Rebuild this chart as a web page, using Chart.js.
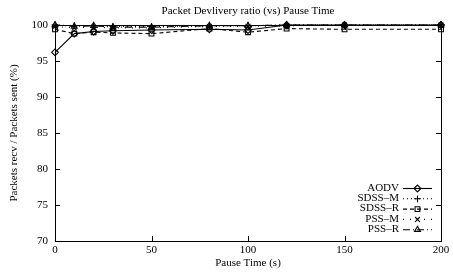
<!DOCTYPE html>
<html>
<head>
<meta charset="utf-8">
<script src="https://cdn.jsdelivr.net/npm/chart.js@4/dist/chart.umd.min.js"></script>
<style>
  html, body { margin: 0; padding: 0; background: #fff; }
  canvas { display: block; }
</style>
</head>
<body>
<canvas id="c" width="453" height="273"></canvas>
<script>
// data
const pauseTimes = [0, 10, 20, 30, 50, 80, 100, 120, 150, 200];
const aodv  = [96.2, 98.8, 99.1, 99.2, 99.3, 99.4, 99.3, 100, 100, 100];
const sdssM = [100, 99.9, 99.9, 99.8, 99.8, 99.9, 99.9, 100, 100, 100];
const sdssR = [99.4, 98.8, 99.0, 98.9, 98.8, 99.5, 99.0, 99.5, 99.4, 99.4];
const pssM  = [99.8, 99.6, 99.7, 99.6, 99.6, 99.8, 99.8, 99.9, 100, 100];
const pssR  = [100, 99.8, 99.9, 99.7, 99.7, 99.9, 99.9, 100, 100, 100];
const xTicks = [0, 50, 100, 150, 200];
const yTicks = [70, 75, 80, 85, 90, 95, 100];

const FONT = '"Liberation Serif", "Times New Roman", serif';

const pts = arr => pauseTimes.map((t, i) => ({ x: t, y: arr[i] }));

const mkSet = (label, arr, dash, style, rot) => ({
    label: label,
    data: pts(arr),
    borderColor: '#000',
    backgroundColor: 'rgba(0,0,0,0)',
    borderWidth: 1.1,
    borderDash: dash,
    pointStyle: style,
    pointRotation: rot || 0,
    pointRadius: 3.4,
    pointBorderWidth: 1.1,
    pointBorderColor: '#000',
    pointBackgroundColor: 'rgba(0,0,0,0)',
    tension: 0,
    clip: false
});

const datasets = [
    mkSet('AODV', aodv, [], 'rectRot'),
    mkSet('SDSS\u2013M', sdssM, [1, 3], 'cross'),
    mkSet('SDSS\u2013R', sdssR, [4, 3], 'rect'),
    mkSet('PSS\u2013M', pssM, [1, 6], 'crossRot'),
    mkSet('PSS\u2013R', pssR, [7, 3, 1, 3], 'triangle')
];

// frame, inward ticks, title and gnuplot-like key
const gnuplotBits = {
    id: 'gnuplotBits',
    afterDraw(chart) {
        const ctx = chart.ctx;
        const a = chart.chartArea;
        const xs = chart.scales.x, ys = chart.scales.y;
        ctx.save();
        ctx.strokeStyle = '#000';
        ctx.lineWidth = 1;
        ctx.setLineDash([]);
        ctx.strokeRect(Math.round(a.left) + 0.5, Math.round(a.top) + 0.5,
                       Math.round(a.right - a.left), Math.round(a.bottom - a.top));
        const tl = 5;
        ctx.beginPath();
        xTicks.forEach(v => {
            const px = Math.round(xs.getPixelForValue(v)) + 0.5;
            ctx.moveTo(px, a.bottom); ctx.lineTo(px, a.bottom - tl);
            ctx.moveTo(px, a.top); ctx.lineTo(px, a.top + tl);
        });
        yTicks.forEach(v => {
            const py = Math.round(ys.getPixelForValue(v)) + 0.5;
            ctx.moveTo(a.left, py); ctx.lineTo(a.left + tl, py);
            ctx.moveTo(a.right, py); ctx.lineTo(a.right - tl, py);
        });
        ctx.stroke();

        // title centred over the plot
        ctx.fillStyle = '#000';
        ctx.font = '11px ' + FONT;
        ctx.textAlign = 'center';
        ctx.textBaseline = 'middle';
        ctx.fillText('Packet Devlivery ratio (vs) Pause Time', (a.left + a.right) / 2, 11);

        // key
        const textRight = a.right - 42;
        const sx0 = a.right - 38, sx1 = a.right - 9;
        let y = a.bottom - 53;
        ctx.textAlign = 'right';
        chart.data.datasets.forEach(ds => {
            ctx.fillStyle = '#000';
            ctx.fillText(ds.label, textRight, y);
            ctx.setLineDash(ds.borderDash);
            ctx.lineWidth = ds.borderWidth;
            ctx.beginPath();
            ctx.moveTo(sx0, y + 0.5); ctx.lineTo(sx1, y + 0.5);
            ctx.stroke();
            ctx.setLineDash([]);
            ctx.fillStyle = 'rgba(0,0,0,0)';
            Chart.helpers.drawPoint(ctx, {
                pointStyle: ds.pointStyle, radius: ds.pointRadius,
                rotation: ds.pointRotation, borderWidth: 1.1
            }, (sx0 + sx1) / 2, y + 0.5);
            y += 10.3;
        });
        ctx.restore();
    }
};

new Chart(document.getElementById('c'), {
    type: 'line',
    data: { datasets: datasets },
    options: {
        responsive: false,
        animation: false,
        layout: { padding: { top: 25, right: 12, left: 0, bottom: 0 } },
        plugins: { legend: { display: false }, title: { display: false }, tooltip: { enabled: false } },
        scales: {
            x: {
                type: 'linear', min: 0, max: 200,
                afterBuildTicks: s => { s.ticks = xTicks.map(v => ({ value: v })); },
                afterFit: s => { s.height = 32; },
                grid: { display: false, drawTicks: false },
                border: { display: false },
                ticks: { color: '#000', font: { family: FONT, size: 11 }, padding: 3, maxRotation: 0 },
                title: { display: true, text: 'Pause Time (s)', color: '#000',
                         font: { family: FONT, size: 11 }, padding: { top: 0, bottom: 3 } }
            },
            y: {
                type: 'linear', min: 70, max: 100,
                afterBuildTicks: s => { s.ticks = yTicks.map(v => ({ value: v })); },
                afterFit: s => { s.width = 55; },
                grid: { display: false, drawTicks: false },
                border: { display: false },
                ticks: { color: '#000', font: { family: FONT, size: 11 }, padding: 7 },
                title: { display: true, text: 'Packets recv / Packets sent (%)', color: '#000',
                         font: { family: FONT, size: 11 }, padding: { top: 8, bottom: 0 } }
            }
        }
    },
    plugins: [gnuplotBits]
});
</script>
</body>
</html>
